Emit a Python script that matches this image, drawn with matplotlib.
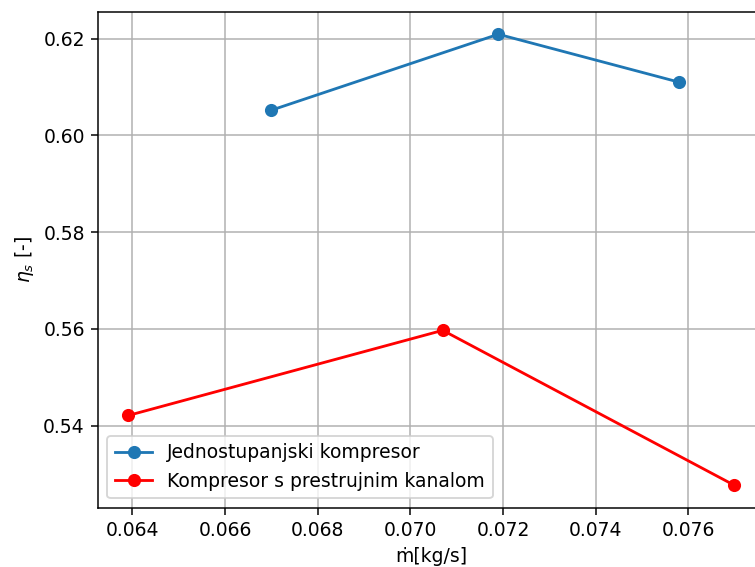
import matplotlib
matplotlib.use("Agg")
import matplotlib.pyplot as plt

# Data
x_jedno = [0.0670, 0.0719, 0.0758]
eta_jedno = [0.6052, 0.6209, 0.6110]
x_prestr = [0.06391, 0.0707, 0.07699]
eta_prestr = [0.5421, 0.5597, 0.5277]

label_jedno = "Jednostupanjski kompresor"
label_prestr = "Kompresor s prestrujnim kanalom"

DPI = 135
fig = plt.figure(figsize=(755 / DPI, 567 / DPI), dpi=DPI)
ax = fig.add_axes([97.9 / 755, 59.3 / 567, (764.4 - 97.9) / 755, (507.7 - 11.7) / 567])

ax.plot(x_jedno, eta_jedno, marker="o", color="#1f77b4", label=label_jedno)
ax.plot(x_prestr, eta_prestr, marker="o", color="red", label=label_prestr)

ax.set_xlabel("ṁ[kg/s]")
ax.set_ylabel(r"$\eta_s$ [-]")
ax.grid(True)
ax.legend(loc="lower left")

fig.savefig("out.png", dpi=DPI)
